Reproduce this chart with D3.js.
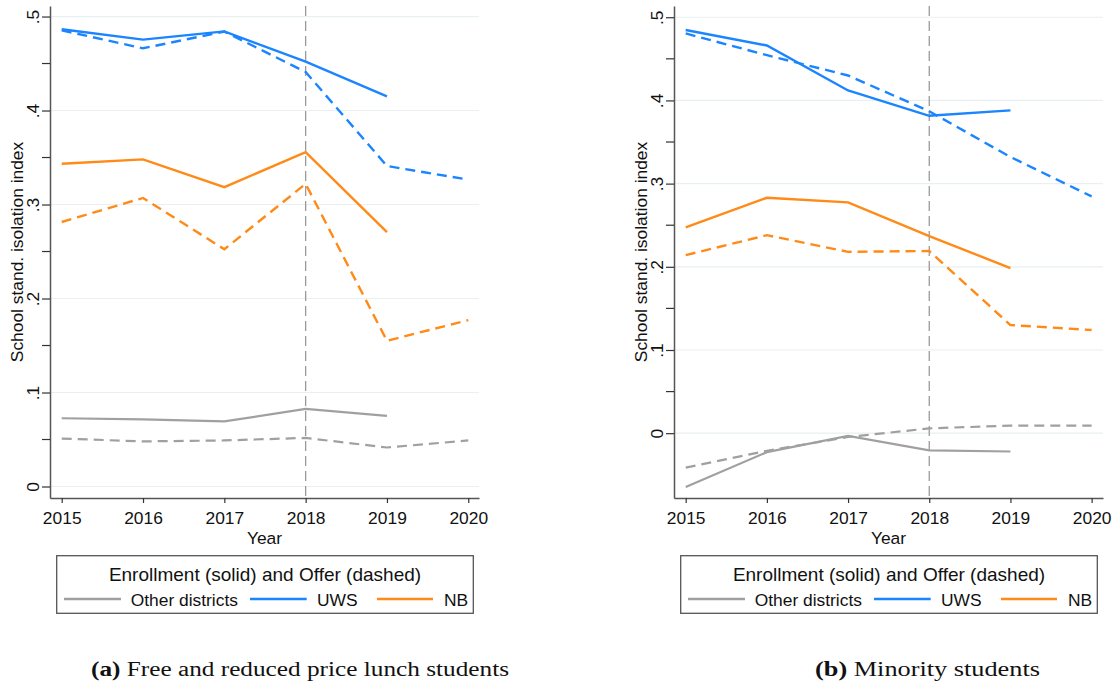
<!DOCTYPE html>
<html>
<head>
<meta charset="utf-8">
<script src="https://cdn.jsdelivr.net/npm/d3@7"></script>
<style>
  html, body { margin: 0; padding: 0; background: #fff; }
  svg { display: block; }
</style>
</head>
<body>
<svg id="chart" width="1114" height="683"></svg>
<script>
// ---------- data ----------
const years = [2015, 2016, 2017, 2018, 2019, 2020];
const xTickLabels = ["2015", "2016", "2017", "2018", "2019", "2020"];
const yTickValues = [0, 0.1, 0.2, 0.3, 0.4, 0.5];
const yTickLabels = ["0", ".1", ".2", ".3", ".4", ".5"];
const yMinorValues = [0.05, 0.15, 0.25, 0.35, 0.45];
const refYear = 2018;

const seriesNames = ["Other districts", "UWS", "NB"];
const seriesColors = ["#a0a0a0", "#1a85ff", "#ff8a17"];

// Panel (a): Free and reduced price lunch students
const frlOtherEnroll = [0.0726, 0.0715, 0.0693, 0.0825, 0.0752];
const frlOtherOffer  = [0.0510, 0.0480, 0.0490, 0.0517, 0.0415, 0.0490];
const frlUwsEnroll   = [0.4864, 0.4754, 0.4842, 0.4520, 0.4150];
const frlUwsOffer    = [0.4853, 0.4662, 0.4840, 0.4410, 0.3410, 0.3265];
const frlNbEnroll    = [0.3434, 0.3480, 0.3184, 0.3558, 0.2707];
const frlNbOffer     = [0.2814, 0.3070, 0.2524, 0.3220, 0.1550, 0.1770];

// Panel (b): Minority students
const minOtherEnroll = [-0.0646, -0.0228, -0.0033, -0.0207, -0.0220];
const minOtherOffer  = [-0.0414, -0.0211, -0.0046, 0.0058, 0.0091, 0.0091];
const minUwsEnroll   = [0.4847, 0.4660, 0.4120, 0.3815, 0.3880];
const minUwsOffer    = [0.4805, 0.4544, 0.4300, 0.3870, 0.3320, 0.2846];
const minNbEnroll    = [0.2473, 0.2830, 0.2775, 0.2370, 0.1984];
const minNbOffer     = [0.2140, 0.2380, 0.2180, 0.2190, 0.1300, 0.1240];

const legendTitle = "Enrollment (solid) and Offer (dashed)";
const yTitle = "School stand. isolation index";
const xTitle = "Year";
const captionA = ["(a)", " Free and reduced price lunch students"];
const captionB = ["(b)", " Minority students"];

// ---------- layout ----------
const FONT = "'Liberation Sans', Arial, sans-serif";
const FS = 17.4;
const svg = d3.select("#chart");

const panels = [
  {
    left: 50, right: 479, top: 6, bottom: 498,
    xDomain: [2014.856, 2020.132],
    yDomain: [-0.01223, 0.5112],
    enroll: [frlOtherEnroll, frlUwsEnroll, frlNbEnroll],
    offer: [frlOtherOffer, frlUwsOffer, frlNbOffer],
    legend: { x0: 56.7, x1: 473.3 },
    caption: captionA, capX: 91, capW: 418
  },
  {
    left: 674, right: 1103, top: 6, bottom: 498,
    xDomain: [2014.856, 2020.14],
    yDomain: [-0.0779, 0.5135],
    enroll: [minOtherEnroll, minUwsEnroll, minNbEnroll],
    offer: [minOtherOffer, minUwsOffer, minNbOffer],
    legend: { x0: 680.7, x1: 1097.3 },
    caption: captionB, capX: 815, capW: 225
  }
];

panels.forEach(p => {
  const g = svg.append("g");
  const x = d3.scaleLinear().domain(p.xDomain).range([p.left, p.right]);
  const y = d3.scaleLinear().domain(p.yDomain).range([p.bottom, p.top]);

  // gridlines
  g.append("g").selectAll("line").data(yTickValues).join("line")
    .attr("x1", p.left).attr("x2", p.right)
    .attr("y1", d => y(d)).attr("y2", d => y(d))
    .attr("stroke", "#e8f0f2").attr("stroke-width", 1.2);

  // reference line
  g.append("line")
    .attr("x1", x(refYear)).attr("x2", x(refYear))
    .attr("y1", p.top).attr("y2", p.bottom)
    .attr("stroke", "#9a9a9a").attr("stroke-width", 1.3)
    .attr("stroke-dasharray", "10,5");

  // series
  const line = d3.line().x((d, i) => x(years[i])).y(d => y(d));
  [0, 1, 2].forEach(k => {
    g.append("path").datum(p.enroll[k])
      .attr("d", line).attr("fill", "none")
      .attr("stroke", seriesColors[k]).attr("stroke-width", k === 0 ? 2.2 : 2.4);
    g.append("path").datum(p.offer[k])
      .attr("d", line).attr("fill", "none")
      .attr("stroke", seriesColors[k]).attr("stroke-width", k === 0 ? 2.2 : 2.4)
      .attr("stroke-dasharray", "10,6");
  });

  // y axis
  const yAxis = d3.axisLeft(y).tickValues(yTickValues)
    .tickFormat((d, i) => yTickLabels[i]).tickSize(8).tickSizeOuter(0);
  const ya = g.append("g").attr("transform", `translate(${p.left},0)`).call(yAxis);
  ya.select(".domain").attr("stroke", "#555").attr("stroke-width", 1.5);
  ya.selectAll(".tick line").attr("stroke", "#333").attr("stroke-width", 1.2);
  ya.selectAll(".tick text")
    .attr("font-family", FONT).attr("font-size", FS).attr("fill", "#111")
    .attr("text-anchor", "middle")
    .attr("x", 0).attr("y", 0).attr("dy", 0)
    .attr("transform", "translate(-11,0) rotate(-90)");
  // minor ticks
  g.append("g").selectAll("line").data(yMinorValues).join("line")
    .attr("x1", p.left - 8).attr("x2", p.left)
    .attr("y1", d => y(d)).attr("y2", d => y(d))
    .attr("stroke", "#333").attr("stroke-width", 1.2);

  // x axis
  const xAxis = d3.axisBottom(x).tickValues(years)
    .tickFormat((d, i) => xTickLabels[i]).tickSize(5).tickSizeOuter(0);
  const xa = g.append("g").attr("transform", `translate(0,${p.bottom})`).call(xAxis);
  xa.select(".domain").attr("stroke", "#555").attr("stroke-width", 1.5);
  xa.selectAll(".tick line").attr("stroke", "#333").attr("stroke-width", 1.2);
  xa.selectAll(".tick text")
    .attr("font-family", FONT).attr("font-size", FS).attr("fill", "#111")
    .attr("y", 26).attr("dy", 0);

  // axis titles
  g.append("text")
    .attr("transform", `translate(${p.left - 27},${(p.top + p.bottom) / 2}) rotate(-90)`)
    .attr("text-anchor", "middle")
    .attr("font-family", FONT).attr("font-size", FS).attr("fill", "#111")
    .text(yTitle);
  g.append("text")
    .attr("x", (p.left + p.right) / 2).attr("y", 544)
    .attr("text-anchor", "middle")
    .attr("font-family", FONT).attr("font-size", FS).attr("fill", "#111")
    .text(xTitle);

  // legend
  const L = p.legend;
  g.append("rect")
    .attr("x", L.x0).attr("y", 555.7)
    .attr("width", L.x1 - L.x0).attr("height", 57.6)
    .attr("fill", "#fff").attr("stroke", "#555").attr("stroke-width", 1.3);
  g.append("text")
    .attr("x", (L.x0 + L.x1) / 2).attr("y", 580.5)
    .attr("text-anchor", "middle")
    .attr("font-family", FONT).attr("font-size", 19).attr("fill", "#111")
    .text(legendTitle);
  const itemOffsets = [
    { l0: 7.3, l1: 64.3, t: 74 },
    { l0: 193.3, l1: 250, t: 260.3 },
    { l0: 320.3, l1: 376.3, t: 387.3 }
  ];
  itemOffsets.forEach((o, k) => {
    g.append("line")
      .attr("x1", L.x0 + o.l0).attr("x2", L.x0 + o.l1)
      .attr("y1", 599).attr("y2", 599)
      .attr("stroke", seriesColors[k]).attr("stroke-width", 2.4);
    g.append("text")
      .attr("x", L.x0 + o.t).attr("y", 605.5)
      .attr("font-family", FONT).attr("font-size", FS).attr("fill", "#111")
      .text(seriesNames[k]);
  });

  // caption
  const cap = svg.append("text")
    .attr("x", p.capX).attr("y", 676)
    .attr("text-anchor", "start")
    .attr("textLength", p.capW)
    .attr("lengthAdjust", "spacingAndGlyphs")
    .attr("font-family", "'Liberation Serif', 'Times New Roman', serif")
    .attr("font-size", 20).attr("fill", "#111");
  cap.append("tspan").attr("font-weight", "bold").text(p.caption[0]);
  cap.append("tspan").text(p.caption[1]);
});
</script>
</body>
</html>
